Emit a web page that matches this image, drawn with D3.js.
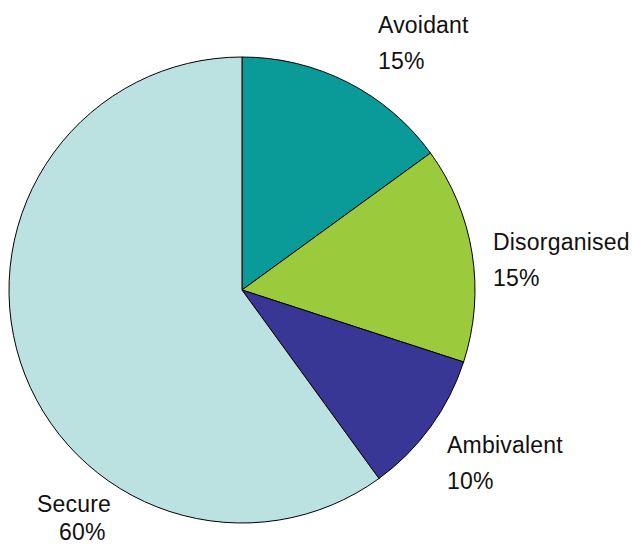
<!DOCTYPE html>
<html><head><meta charset="utf-8">
<script src="https://cdn.jsdelivr.net/npm/d3@7"></script>
<style>body{margin:0;background:#fff}svg{display:block}</style>
</head><body>
<script>
const categories = ["Avoidant", "Disorganised", "Ambivalent", "Secure"];
const values = [15, 15, 10, 60];
const labels = ["15%", "15%", "10%", "60%"];
const colors = ["#0a9a98", "#9bcb3c", "#393795", "#bce1e1"];
const labelPos = [[378, 33], [493, 250], [447, 453], [37, 512]];
const secondLineX = [378, 493, 447, 59];

const W = 632, H = 547, cx = 242, cy = 290, r = 233;
const svg = d3.select("body").append("svg").attr("width", W).attr("height", H);
const pie = d3.pie().sort(null).value(d => d)(values);
const arc = d3.arc().innerRadius(0).outerRadius(r);
const g = svg.append("g").attr("transform", `translate(${cx},${cy})`);
g.selectAll("path").data(pie).join("path")
  .attr("d", arc)
  .attr("fill", (d, i) => colors[i])
  .attr("stroke", "#000").attr("stroke-width", 1);

const t = svg.selectAll("text.lab").data(categories).join("text")
  .attr("class", "lab")
  .attr("font-family", "Liberation Sans, Arial, sans-serif")
  .attr("font-size", 23).attr("letter-spacing", 0.2).attr("fill", "#111");
t.append("tspan").attr("x", (d, i) => labelPos[i][0]).attr("y", (d, i) => labelPos[i][1]).text(d => d);
t.append("tspan").attr("x", (d, i) => secondLineX[i]).attr("y", (d, i) => Math.min(labelPos[i][1] + 36, 540)).text((d, i) => labels[i]);
</script>
</body></html>
